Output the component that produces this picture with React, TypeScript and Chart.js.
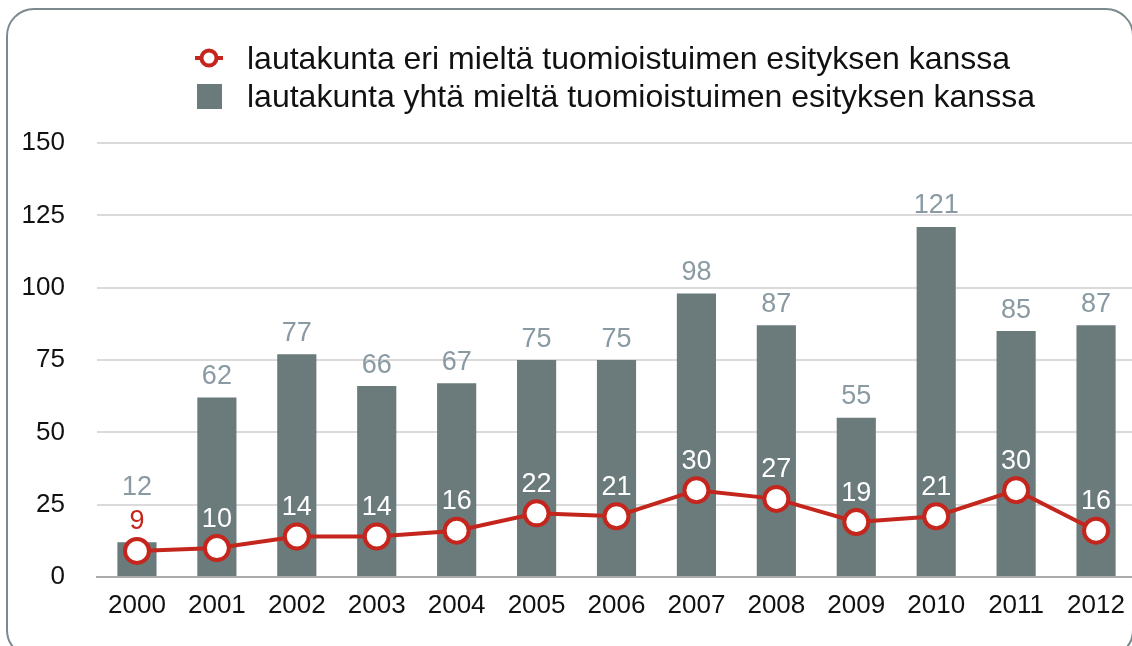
import React, { useEffect, useRef } from "react";
import { Chart, registerables } from "chart.js";

Chart.register(...registerables);

const years = ["2000","2001","2002","2003","2004","2005","2006","2007","2008","2009","2010","2011","2012"];
const disagree = [9, 10, 14, 14, 16, 22, 21, 30, 27, 19, 21, 30, 16];
const agree = [12, 62, 77, 66, 67, 75, 75, 98, 87, 55, 121, 85, 87];
const yTicks = [0, 25, 50, 75, 100, 125, 150];
const legendLabels = [
  "lautakunta eri mieltä tuomioistuimen esityksen kanssa",
  "lautakunta yhtä mieltä tuomioistuimen esityksen kanssa",
];

const FONT = '"Liberation Sans", Arial, Helvetica, sans-serif';
const RED = "#c4261d";
const BAR = "#6b7a7b";
const BARLABEL = "#8a9aa2";
const CW = 1152;

const labelPlugin = {
  id: "valueLabels",
  afterDatasetsDraw(chart: any) {
    const ctx = chart.ctx;
    const barMeta = chart.getDatasetMeta(1);
    const lineMeta = chart.getDatasetMeta(0);
    ctx.save();
    ctx.font = "27px " + FONT;
    ctx.textAlign = "center";
    ctx.textBaseline = "alphabetic";
    const half = 9.5;
    for (let i = 0; i < years.length; i++) {
      const p = lineMeta.data[i];
      const b = barMeta.data[i];
      const lineLabelY = p.y - 31;
      const barTop = b.y;
      const onBar = lineLabelY - 12 > barTop;
      ctx.fillStyle = onBar ? "#ffffff" : RED;
      ctx.fillText(String(disagree[i]), p.x, lineLabelY + half);
      const barLabelY = Math.min(barTop - 23, lineLabelY - 34);
      ctx.fillStyle = BARLABEL;
      ctx.fillText(String(agree[i]), b.x, barLabelY + half);
    }
    ctx.restore();
  },
};

export default function App() {
  const ref = useRef<HTMLCanvasElement>(null);
  useEffect(() => {
    if (!ref.current) return;
    const chart = new Chart(ref.current, {
      type: "bar",
      data: {
        labels: years,
        datasets: [
          {
            type: "line",
            label: legendLabels[0],
            data: disagree,
            borderColor: RED,
            borderWidth: 4,
            pointRadius: 12,
            pointBorderWidth: 4,
            pointBackgroundColor: "#ffffff",
            pointBorderColor: RED,
            tension: 0,
            order: 0,
          } as any,
          {
            type: "bar",
            label: legendLabels[1],
            data: agree,
            backgroundColor: BAR,
            borderWidth: 0,
            barPercentage: 0.49,
            categoryPercentage: 1,
            order: 1,
          } as any,
        ],
      },
      options: {
        animation: false,
        responsive: false,
        maintainAspectRatio: false,
        layout: { padding: { top: 143, left: 0, right: 0, bottom: 0 } },
        plugins: {
          legend: { display: false },
          tooltip: { enabled: false },
        },
        scales: {
          x: {
            grid: { display: false, drawTicks: false },
            border: { display: true, color: "#ababab", width: 2 },
            ticks: {
              color: "#111111",
              font: { family: FONT, size: 26 },
              padding: 13,
              maxRotation: 0,
              autoSkip: false,
            },
            afterFit: (s: any) => {
              s.height = 646 - 577;
              s.paddingLeft = 0;
              s.paddingRight = 0;
            },
          },
          y: {
            min: 0,
            max: 150,
            afterBuildTicks: (s: any) => {
              s.ticks = yTicks.map((v) => ({ value: v }));
            },
            grid: {
              drawTicks: false,
              lineWidth: 2,
              color: (c: any) => (c.tick && c.tick.value === 0 ? "#ababab" : "#dadada"),
            },
            border: { display: false },
            ticks: {
              color: "#111111",
              font: { family: FONT, size: 26 },
              padding: 32,
            },
            afterFit: (s: any) => {
              s.width = 97;
            },
          },
        },
      },
      plugins: [labelPlugin],
    });
    return () => chart.destroy();
  }, []);

  return (
    <div style={{ position: "fixed", left: 0, top: 0, width: 1132, height: 646, overflow: "hidden", background: "#fff" }}>
      <div
        style={{
          position: "absolute",
          left: 6,
          top: 8,
          width: 1128,
          height: 650,
          boxSizing: "border-box",
          border: "2px solid #7b8a8f",
          borderRadius: 28,
        }}
      />
      <canvas ref={ref} width={CW} height={646} style={{ position: "absolute", left: 0, top: 0, width: CW, height: 646 }} />
      <svg style={{ position: "absolute", left: 195, top: 47 }} width={28} height={22}>
        <line x1={0} y1={11} x2={28} y2={11} stroke={RED} strokeWidth={4} />
        <circle cx={14} cy={11} r={7.5} fill="#fff" stroke={RED} strokeWidth={4} />
      </svg>
      <div style={{ position: "absolute", left: 197, top: 84, width: 25, height: 25, background: BAR }} />
      {legendLabels.map((t, i) => (
        <div
          key={i}
          style={{
            position: "absolute",
            left: 247,
            top: 40 + i * 38,
            fontFamily: FONT,
            fontSize: 32,
            lineHeight: "36px",
            color: "#111",
            whiteSpace: "nowrap",
          }}
        >
          {t}
        </div>
      ))}
    </div>
  );
}
